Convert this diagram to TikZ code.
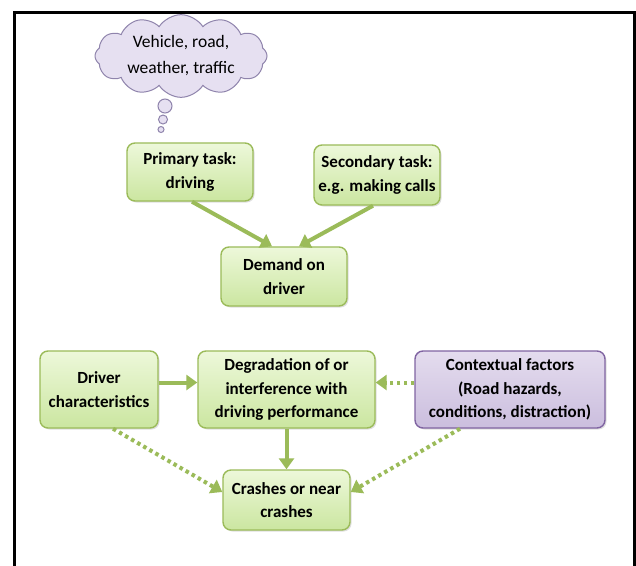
\documentclass[tikz,border=0pt]{standalone}
\usepackage{fontspec}
\setmainfont{Carlito}
\usetikzlibrary{arrows.meta,shapes.symbols,shadows}
\definecolor{gborder}{HTML}{9BBB59}
\definecolor{gtop}{HTML}{EDF8DA}
\definecolor{gbot}{HTML}{CBE6A0}
\definecolor{pborder}{HTML}{8064A2}
\definecolor{ptop}{HTML}{E4DCEE}
\definecolor{pbot}{HTML}{CBBEDE}
\definecolor{cfill}{HTML}{E6E0F1}
\definecolor{cborder}{HTML}{8F84AC}
\definecolor{arrowc}{HTML}{9BBB59}
\tikzset{
  gbox/.style={draw=gborder, line width=1.4pt, rounded corners=8pt,
    top color=gtop, bottom color=gbot, align=center, inner sep=2pt,
    font=\fontsize{17}{23.5}\selectfont\bfseries,
    drop shadow={shadow xshift=1.5pt, shadow yshift=-1.5pt, opacity=0.25}},
  pbox/.style={gbox, draw=pborder, top color=ptop, bottom color=pbot},
  solidarrow/.style={draw=arrowc, line width=4pt, -{Triangle[length=11pt,width=15pt]}},
  dotarrow/.style={draw=arrowc, line width=4pt, dash pattern=on 3.5pt off 3.5pt,
    -{Triangle[length=11pt,width=15pt]}},
  bubble/.style={circle, draw=cborder, fill=cfill, line width=1pt, inner sep=0pt}
}
\begin{document}
\begin{tikzpicture}[x=1pt,y=-1pt]
\useasboundingbox (0,0) rectangle (636,565);
\fill[white] (0,0) rectangle (636,565);
\draw[line width=3pt] (14,570) -- (14,12.5) -- (634,12.5) -- (634,570);

% cloud
\node[cloud, cloud puffs=12, cloud puff arc=115, aspect=2.4,
  draw=cborder, fill=cfill, line width=1pt, minimum width=172pt, minimum height=74pt,
  inner sep=0pt, align=center, font=\fontsize{17.5}{26}\selectfont] (cloud) at (181,56)
  {Vehicle, road,\\weather, traffic};
\node[bubble, minimum size=14pt] (b1) at (165,106) {};
\node[bubble, minimum size=9pt] (b2) at (163,119.5) {};
\node[bubble, minimum size=6pt] (b3) at (161,129.5) {};

% boxes
\node[gbox, minimum width=126pt, minimum height=58pt] (prim) at (190,172) {Primary task:\\driving};
\node[gbox, minimum width=126pt, minimum height=60pt] (sec) at (377,175) {Secondary task:\\e.g. making calls};
\node[gbox, minimum width=126pt, minimum height=59pt] (dem) at (284,276.5) {Demand on\\driver};
\node[gbox, minimum width=118pt, minimum height=77pt] (drv) at (99,389.5) {Driver\\characteristics};
\node[gbox, minimum width=177pt, minimum height=77pt] (deg) at (286.5,389.5) {Degradation of or\\interference with\\driving performance};
\node[pbox, minimum width=190pt, minimum height=77pt] (ctx) at (510,389.5) {Contextual factors\\(Road hazards,\\conditions, distraction)};
\node[gbox, minimum width=127pt, minimum height=60pt] (crash) at (286.5,500) {Crashes or near\\crashes};

% connectors
\draw[solidarrow] ([xshift=2pt]prim.south) -- ([xshift=-12pt]dem.north);
\draw[solidarrow] ([xshift=-4pt]sec.south) -- ([xshift=15pt]dem.north);
\draw[solidarrow] ([yshift=7pt]drv.east) -- ([yshift=7pt]deg.west);
\draw[dotarrow] ([yshift=7pt]ctx.west) -- ([yshift=7pt]deg.east);
\draw[solidarrow] (deg.south) -- (crash.north);
\draw[dotarrow] ([xshift=14pt]drv.south) -- ([yshift=8pt]crash.west);
\draw[dotarrow] ([xshift=-50pt]ctx.south) -- ([yshift=8pt]crash.east);
\end{tikzpicture}
\end{document}
